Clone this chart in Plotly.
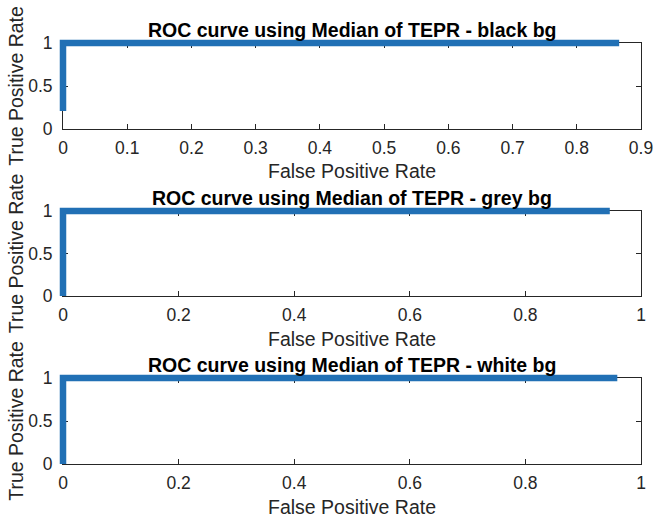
import plotly.graph_objects as go

# ---- data ----
titles = ["ROC curve using Median of TEPR - black bg",
          "ROC curve using Median of TEPR - grey bg",
          "ROC curve using Median of TEPR - white bg"]
fpr_black = [0.0, 0.0, 0.866]
tpr_black = [0.21, 1.0, 1.0]
fpr_grey = [0.0, 0.0, 0.946]
tpr_grey = [0.0, 1.0, 1.0]
fpr_white = [0.0, 0.0, 0.959]
tpr_white = [0.0, 1.0, 1.0]

x_ticks_1 = [0, 0.1, 0.2, 0.3, 0.4, 0.5, 0.6, 0.7, 0.8, 0.9]
x_ticklabels_1 = ["0", "0.1", "0.2", "0.3", "0.4", "0.5", "0.6", "0.7", "0.8", "0.9"]
x_ticks_23 = [0, 0.2, 0.4, 0.6, 0.8, 1]
x_ticklabels_23 = ["0", "0.2", "0.4", "0.6", "0.8", "1"]
y_ticks = [0, 0.5, 1]
y_ticklabels = ["0", "0.5", "1"]
x_label = "False Positive Rate"
y_label = "True Positive Rate"

series = [(fpr_black, tpr_black), (fpr_grey, tpr_grey), (fpr_white, tpr_white)]
xmax = [0.9, 1.0, 1.0]
xticks = [(x_ticks_1, x_ticklabels_1), (x_ticks_23, x_ticklabels_23), (x_ticks_23, x_ticklabels_23)]

# ---- layout geometry (window pixels) ----
W, H = 653, 520
X0, X1 = 63, 641
rows = [(43, 129), (211, 296), (378, 464)]
E = 12  # extension of data axes so the thick line is not clipped
EPS = 1e-6

AXC = "#262626"
LINEC = "#2170B5"
FONT = "Liberation Sans, Arial, Helvetica, sans-serif"
TICK_FS = 17.5
LAB_FS = 19.5

def fx(x):
    return x / W

def fy(y):
    return 1 - y / H

fig = go.Figure()
layout = dict(
    width=W, height=H,
    margin=dict(l=0, r=0, t=0, b=0, autoexpand=False),
    paper_bgcolor="white", plot_bgcolor="rgba(0,0,0,0)",
    showlegend=False,
    font=dict(family=FONT, color=AXC, size=TICK_FS),
)
annotations = []

for i in range(3):
    top, bot = rows[i]
    n = i + 1
    dn = i + 4
    xs = "" if n == 1 else str(n)
    ys = xs
    # visible frame axes
    layout["xaxis" + xs] = dict(
        domain=[fx(X0), fx(X1)], range=[-EPS, xmax[i] + EPS], anchor="y" + xs,
        autorange=False,
        tickmode="array", tickvals=xticks[i][0], ticktext=xticks[i][1],
        ticks="inside", ticklen=5, tickwidth=1, tickcolor=AXC,
        showline=True, linecolor=AXC, linewidth=1, mirror="ticks",
        showgrid=False, zeroline=False, fixedrange=True,
        tickfont=dict(size=TICK_FS, color=AXC, family=FONT),
        ticklabelstandoff=3, ticklabeloverflow="allow",
    )
    layout["yaxis" + ys] = dict(
        domain=[fy(bot), fy(top)], range=[-EPS, 1 + EPS], anchor="x" + xs,
        autorange=False,
        tickmode="array", tickvals=y_ticks, ticktext=y_ticklabels,
        ticks="inside", ticklen=5, tickwidth=1, tickcolor=AXC,
        showline=True, linecolor=AXC, linewidth=1, mirror="ticks",
        showgrid=False, zeroline=False, fixedrange=True,
        tickfont=dict(size=TICK_FS, color=AXC, family=FONT),
        ticklabelstandoff=6, ticklabeloverflow="allow",
    )
    # empty trace so the frame subplot is drawn
    fig.add_trace(go.Scatter(x=[None], y=[None], mode="lines",
                             xaxis="x" + xs if xs else "x",
                             yaxis="y" + ys if ys else "y",
                             hoverinfo="skip"))
    # invisible data axes, same scale, slightly larger area
    plen = X1 - X0
    ex = E * xmax[i] / plen
    ph = bot - top
    ey = E / ph
    layout["xaxis" + str(dn)] = dict(
        domain=[fx(X0 - E), fx(X1 + E)], range=[-ex, xmax[i] + ex],
        autorange=False,
        anchor="y" + str(dn), visible=False, fixedrange=True,
    )
    layout["yaxis" + str(dn)] = dict(
        domain=[fy(bot + E), fy(top - E)], range=[-ey, 1 + ey],
        autorange=False,
        anchor="x" + str(dn), visible=False, fixedrange=True,
    )
    px_, py_ = series[i]
    fig.add_trace(go.Scatter(
        x=px_, y=py_, mode="lines",
        line=dict(color=LINEC, width=6.5),
        xaxis="x" + str(dn), yaxis="y" + str(dn),
        hoverinfo="skip",
    ))
    cx = (X0 + X1) / 2
    # title
    annotations.append(dict(
        text="<b>" + titles[i] + "</b>", x=fx(cx), y=fy(top - 13.5),
        xref="paper", yref="paper", xanchor="center", yanchor="middle",
        showarrow=False, font=dict(size=LAB_FS, color="#000000", family=FONT),
    ))
    # x label
    annotations.append(dict(
        text=x_label, x=fx(cx), y=fy(bot + 42.5),
        xref="paper", yref="paper", xanchor="center", yanchor="middle",
        showarrow=False, font=dict(size=LAB_FS, color=AXC, family=FONT),
    ))
    # y label
    annotations.append(dict(
        text=y_label, x=fx(15.8), y=fy((top + bot) / 2), textangle=-90,
        xref="paper", yref="paper", xanchor="center", yanchor="middle",
        showarrow=False, font=dict(size=LAB_FS, color=AXC, family=FONT),
    ))

layout["annotations"] = annotations
fig.update_layout(**layout)
fig.write_html(
    "out.html",
    config={"displayModeBar": False},
    post_script="document.documentElement.style.overflow='hidden';"
                "document.body.style.margin='0';"
                "document.body.style.overflow='hidden';",
)
